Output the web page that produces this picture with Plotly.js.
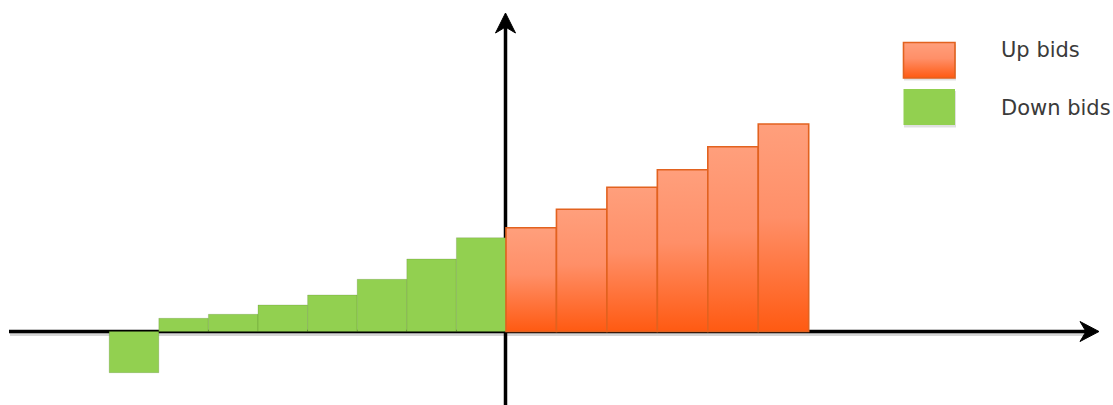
<!DOCTYPE html>
<html><head><meta charset="utf-8">
<script src="https://cdn.plot.ly/plotly-3.0.1.min.js"></script>
<style>html,body{margin:0;padding:0;background:#fff;overflow:hidden}</style>
</head><body><div id="chart" style="width:1113px;height:405px"></div>
<script>
// ---- data ----
const seriesNames = ['Up bids', 'Down bids'];
const downBids = [-4.12, 1.32, 1.72, 2.65, 3.65, 5.22, 7.25, 9.38]; // left to right
const upBids = [10.38, 12.22, 14.42, 16.18, 18.48, 20.75];         // left to right

// ---- layout helpers ----
const W = 1113, H = 405;
const pxX = p => p / W;          // pixel -> paper x
const pxY = p => 1 - p / H;      // pixel -> paper y
const downW = 0.992, upW = 1.009;
const downX = downBids.map((v, i) => -(downBids.length - i - 0.5) * downW);
const upX = upBids.map((v, i) => (i + 0.5) * upW);

const traces = [
  {type: 'bar', name: seriesNames[1], x: downX, y: downBids, width: downW,
   marker: {color: '#92D050', line: {color: 'rgba(60,90,30,0.18)', width: 1}},
   hoverinfo: 'skip', showlegend: false},
  {type: 'bar', name: seriesNames[0], x: upX, y: upBids, width: upW,
   marker: {color: '#FF8555', line: {color: '#E2621F', width: 1.6}},
   hoverinfo: 'skip', showlegend: false}
];

const shapes = [
  // axis shadow
  {type: 'line', xref: 'paper', yref: 'paper', layer: 'below',
   x0: pxX(10), x1: pxX(1088), y0: pxY(334.5), y1: pxY(334.5),
   line: {color: 'rgba(0,0,0,0.16)', width: 3}},
  // horizontal axis
  {type: 'line', xref: 'paper', yref: 'paper', layer: 'below',
   x0: pxX(9), x1: pxX(1090), y0: pxY(331.5), y1: pxY(331.5),
   line: {color: '#000', width: 3.5}},
  {type: 'path', xref: 'paper', yref: 'paper', layer: 'below',
   path: `M ${pxX(1099)} ${pxY(331.5)} L ${pxX(1080)} ${pxY(321.5)} L ${pxX(1086)} ${pxY(331.5)} L ${pxX(1080)} ${pxY(341.5)} Z`,
   fillcolor: '#000', line: {color: '#000', width: 1}},
  // vertical axis
  {type: 'line', xref: 'paper', yref: 'paper', layer: 'below',
   x0: pxX(505.5), x1: pxX(505.5), y0: pxY(405), y1: pxY(24),
   line: {color: '#000', width: 3.5}},
  {type: 'path', xref: 'paper', yref: 'paper', layer: 'below',
   path: `M ${pxX(505.5)} ${pxY(13)} L ${pxX(495.5)} ${pxY(33)} L ${pxX(505.5)} ${pxY(27)} L ${pxX(515.5)} ${pxY(33)} Z`,
   fillcolor: '#000', line: {color: '#000', width: 1}},
  // legend shadows
  {type: 'rect', xref: 'paper', yref: 'paper', layer: 'above',
   x0: pxX(904), x1: pxX(956), y0: pxY(44.5), y1: pxY(80.5),
   fillcolor: 'rgba(0,0,0,0.12)', line: {width: 0}},
  {type: 'rect', xref: 'paper', yref: 'paper', layer: 'above',
   x0: pxX(904), x1: pxX(956), y0: pxY(91), y1: pxY(127.5),
   fillcolor: 'rgba(0,0,0,0.12)', line: {width: 0}},
  // legend squares
  {type: 'rect', xref: 'paper', yref: 'paper', layer: 'above',
   x0: pxX(903.5), x1: pxX(955), y0: pxY(42.5), y1: pxY(78),
   fillcolor: '#FF8555', line: {color: '#E2621F', width: 1.6}},
  {type: 'rect', xref: 'paper', yref: 'paper', layer: 'above',
   x0: pxX(903.5), x1: pxX(955), y0: pxY(89), y1: pxY(125),
   fillcolor: '#92D050', line: {width: 0}}
];
const ORANGE_LEGEND_INDEX = 7;

const annotations = [
  {xref: 'paper', yref: 'paper', x: pxX(999), y: pxY(49.5), xanchor: 'left', yanchor: 'middle',
   text: seriesNames[0], showarrow: false, font: {family: 'DejaVu Sans', size: 21, color: '#3a3a3a'}},
  {xref: 'paper', yref: 'paper', x: pxX(999), y: pxY(108), xanchor: 'left', yanchor: 'middle',
   text: seriesNames[1], showarrow: false, font: {family: 'DejaVu Sans', size: 21, color: '#3a3a3a'}}
];

const layout = {
  width: W, height: H,
  margin: {l: 0, r: 0, t: 0, b: 0, pad: 0},
  paper_bgcolor: '#fff', plot_bgcolor: '#fff',
  barmode: 'overlay',
  showlegend: false,
  xaxis: {range: [-506 / 50, (W - 506) / 50], visible: false, fixedrange: true},
  yaxis: {range: [-(H - 331.5) / 10, 331.5 / 10], visible: false, fixedrange: true},
  shapes: shapes,
  annotations: annotations
};

Plotly.newPlot('chart', traces, layout, {staticPlot: true, displayModeBar: false}).then(gd => {
  const svg = gd.querySelector('.main-svg');
  let defs = svg.querySelector('defs');
  if (!defs) { defs = document.createElementNS('http://www.w3.org/2000/svg', 'defs'); svg.insertBefore(defs, svg.firstChild); }
  const ns = 'http://www.w3.org/2000/svg';
  const grad = document.createElementNS(ns, 'linearGradient');
  grad.setAttribute('id', 'upGrad');
  grad.setAttribute('x1', '0'); grad.setAttribute('y1', '0');
  grad.setAttribute('x2', '0'); grad.setAttribute('y2', '1');
  [['0', '#FF9F7C'], ['0.45', '#FF8F68'], ['1', '#FF5A12']].forEach(([o, c]) => {
    const s = document.createElementNS(ns, 'stop');
    s.setAttribute('offset', o); s.setAttribute('stop-color', c);
    grad.appendChild(s);
  });
  defs.appendChild(grad);
  const traceGroups = gd.querySelectorAll('.barlayer .trace');
  if (traceGroups[1]) traceGroups[1].querySelectorAll('path').forEach(p => p.style.setProperty('fill', 'url(#upGrad)'));
  const lp = gd.querySelector(`.layer-above .shapelayer path[data-index="${ORANGE_LEGEND_INDEX}"]`);
  if (lp) lp.style.setProperty('fill', 'url(#upGrad)');
});
</script>
</body></html>
